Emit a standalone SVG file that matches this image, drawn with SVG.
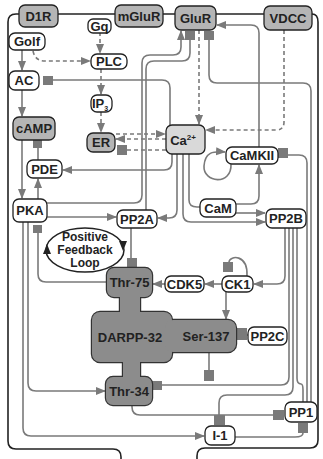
<svg xmlns="http://www.w3.org/2000/svg" width="323" height="459" viewBox="0 0 323 459">
<defs>
<marker id="ar" markerUnits="userSpaceOnUse" markerWidth="10" markerHeight="10" viewBox="0 0 10 10" refX="9" refY="5" orient="auto"><path d="M0,1 L10,5 L0,9 Z" fill="#7a7a7a"/></marker>
<style>
.c path{fill:none;stroke:#7a7a7a;stroke-width:1.6}
.c .d{stroke-dasharray:4 3}
.c .a{marker-end:url(#ar)}
.sq{fill:#7a7a7a}
.n rect{fill:#fff;stroke:#222;stroke-width:1.3}
.n.g rect{fill:#b5b5b5}
.n.l rect{fill:#d9d9d9}
text{font-family:"Liberation Sans",Arial,sans-serif;font-weight:bold;font-size:13px;fill:#222;text-anchor:middle}
.lp{font-size:12px}
.mem{fill:none;stroke:#222;stroke-width:1.6}
</style>
</defs>
<path class="mem" d="M20,14 H312"/>
<path class="mem" d="M20,14 H16 Q8,14 8,22 V441 Q8,449 16,449 H113 Q121,449 121,457 V459"/>
<path class="mem" d="M312,14 Q318,14 318,22 V440 Q318,448 310,448 H205 Q197,448 197,456 V459"/>
<g id="connectors" class="c">
<path class="a" d="M22,50 V70"/>
<path class="a" d="M22,89 V116"/>
<path class="d a" d="M100,32 V53"/>
<path class="d a" d="M33,51 Q35,61 45,61 H90"/>
<path class="d a" d="M101,69 V94"/>
<path class="d a" d="M101,112 V132"/>
<path class="d a" d="M116,134 H165"/>
<path class="d a" d="M166,139 H116"/>
<path class="d" d="M166,150 H127"/>
<path d="M170,125 V88 Q170,80 162,80 H53"/>
<path class="d a" d="M199,30 V124"/>
<path class="d a" d="M284,30 V122 Q284,130 276,130 H206"/>
<path class="a" d="M259,147 V33 Q259,25 251,25 H217"/>
<path class="a" d="M47,203 H134 Q142,203 142,195 V63 Q142,55 150,55 H173 Q181,55 181,47 V31"/>
<path d="M146,210 V69 Q146,61 154,61 H182 Q190,61 190,53 V40"/>
<path class="a" d="M172,154 V162 Q172,170 164,170 H63"/>
<path class="a" d="M177,154 V210 Q177,218 169,218 H158"/>
<path class="a" d="M183,154 V214 Q183,222 191,222 H265"/>
<path d="M189,154 V200 Q189,207 197,207 H200"/>
<path class="a" d="M236,204 H251 Q259,204 259,196 V165"/>
<path class="a" d="M236,213 H265"/>
<path class="a" d="M231,164 C232,186 203,183 204,166 C205,152 213,151 225,152"/>
<path class="a" d="M22,140 V198"/>
<path class="a" d="M38,199 V179"/>
<path d="M38,160 V148"/>
<path class="a" d="M47,217 H116"/>
<path d="M107,282 H46 Q38,282 38,274 V233"/>
<path class="a" d="M28,222 V383 Q28,391 36,391 H105"/>
<path class="a" d="M23,222 V428 Q23,436 31,436 H204"/>
<path d="M131,228 V258"/>
<path class="a" d="M165,284 H153"/>
<path class="a" d="M222,284 H205"/>
<path d="M247,276 C248,254 230,255 229,262"/>
<path class="a" d="M285,228 V276 Q285,284 277,284 H254"/>
<path class="a" d="M226,292 V319"/>
<path d="M248,335 H246"/>
<path d="M209,352 V370"/>
<path d="M289,228 V377 Q289,385 281,385 H162"/>
<path d="M293,228 V387 Q293,395 285,395 H227 Q219,395 219,403 V415"/>
<path d="M297,228 V378 Q297,384 301,384 Q303,384 303,390 V402"/>
<path d="M132,405 V407 Q132,415 140,415 H273"/>
<path d="M235,437 H295 Q303,437 303,433"/>
<path d="M307,402 V163 Q307,155 299,155 H288"/>
<path d="M311,402 V91 Q311,83 303,83 H217 Q209,83 209,75 V40"/>
<rect class="sq" x="117" y="145" width="10" height="10"/>
<rect class="sq" x="43" y="76" width="10" height="9"/>
<rect class="sq" x="185" y="31" width="10" height="9"/>
<rect class="sq" x="204" y="31" width="10" height="9"/>
<rect class="sq" x="33" y="140" width="9" height="8"/>
<rect class="sq" x="33" y="225" width="9" height="8"/>
<rect class="sq" x="127" y="258" width="10" height="10"/>
<rect class="sq" x="223" y="262" width="10" height="10"/>
<rect class="sq" x="236" y="328" width="11" height="12"/>
<rect class="sq" x="204" y="370" width="10" height="11"/>
<rect class="sq" x="152" y="381" width="10" height="9"/>
<rect class="sq" x="214" y="415" width="11" height="10"/>
<rect class="sq" x="273" y="410" width="11" height="10"/>
<rect class="sq" x="298" y="423" width="10" height="10"/>
<rect class="sq" x="278" y="148" width="10" height="10"/>
</g>
<g id="D1R" class="n g"><rect x="19" y="5" width="39" height="22" rx="6"/><text x="38.5" y="20.5">D1R</text></g>
<g id="mGluR" class="n g"><rect x="115" y="5" width="48" height="22" rx="6"/><text x="139" y="20.5">mGluR</text></g>
<g id="GluR" class="n g"><rect x="175" y="6" width="41" height="24" rx="6"/><text x="195.5" y="22.5">GluR</text></g>
<g id="VDCC" class="n g"><rect x="264" y="6" width="48" height="24" rx="6"/><text x="288" y="22.5">VDCC</text></g>
<g id="Gq" class="n"><rect x="88" y="19" width="23" height="14" rx="5"/><text x="99.5" y="30.5">Gq</text></g>
<g id="Golf" class="n"><rect x="9" y="33" width="36" height="17" rx="6"/><text x="27" y="46">Golf</text></g>
<g id="PLC" class="n"><rect x="91" y="54" width="36" height="15" rx="6"/><text x="109" y="66">PLC</text></g>
<g id="AC" class="n"><rect x="9" y="71" width="30" height="19" rx="6"/><text x="24" y="85">AC</text></g>
<g id="IP3" class="n"><rect x="91" y="95" width="21" height="17" rx="6"/><text x="100" y="108">IP<tspan font-size="7" dy="3">3</tspan></text></g>
<g id="cAMP" class="n g"><rect x="13" y="117" width="42" height="23" rx="6"/><text x="34" y="133">cAMP</text></g>
<g id="ER" class="n g"><rect x="87" y="133" width="28" height="19" rx="6"/><text x="101" y="147">ER</text></g>
<g id="Ca" class="n l"><rect x="166" y="125" width="39" height="29" rx="6"/><text x="183" y="144.5">Ca<tspan font-size="8" dy="-5">2+</tspan></text></g>
<g id="CaMKII" class="n"><rect x="226" y="147" width="52" height="17" rx="6"/><text x="252" y="160">CaMKII</text></g>
<g id="PDE" class="n"><rect x="27" y="160" width="35" height="18" rx="6"/><text x="44.5" y="173.5">PDE</text></g>
<g id="PKA" class="n"><rect x="13" y="199" width="34" height="23" rx="6"/><text x="30" y="215">PKA</text></g>
<g id="PP2A" class="n"><rect x="117" y="210" width="40" height="18" rx="6"/><text x="137" y="223.5">PP2A</text></g>
<g id="CaM" class="n"><rect x="200" y="199" width="36" height="18" rx="6"/><text x="218" y="212.5">CaM</text></g>
<g id="PP2B" class="n"><rect x="266" y="209" width="40" height="19" rx="6"/><text x="286" y="223">PP2B</text></g>
<g id="loop"><ellipse cx="85" cy="250" rx="39" ry="22" fill="#fff" stroke="#222" stroke-width="1.5"/>
<path d="M43,254 L47,244 L51,254 Z M119,241 L123,251 L127,241 Z" fill="#222"/>
<text class="lp" x="85" y="241">Positive</text><text class="lp" x="85" y="254">Feedback</text><text class="lp" x="85" y="267">Loop</text></g>
<g id="DARPP32">
<g fill="#8c8c8c" stroke="#333" stroke-width="2.4">
<rect x="107" y="268" width="45" height="29" rx="7"/>
<rect x="120" y="290" width="20" height="30"/>
<rect x="92" y="312" width="80" height="50" rx="8"/>
<rect x="165" y="320" width="71" height="32" rx="8"/>
<rect x="123" y="355" width="17" height="28"/>
<rect x="106" y="377" width="46" height="28" rx="7"/>
</g>
<g fill="#8c8c8c">
<rect x="107" y="268" width="45" height="29" rx="7"/>
<rect x="120" y="290" width="20" height="30"/>
<rect x="92" y="312" width="80" height="50" rx="8"/>
<rect x="165" y="320" width="71" height="32" rx="8"/>
<rect x="123" y="355" width="17" height="28"/>
<rect x="106" y="377" width="46" height="28" rx="7"/>
</g>
<text x="129.5" y="287">Thr-75</text>
<text x="130" y="342">DARPP-32</text>
<text x="206" y="341">Ser-137</text>
<text x="129" y="395.5">Thr-34</text>
</g>
<g id="CDK5" class="n"><rect x="165" y="276" width="39" height="16" rx="6"/><text x="184.5" y="288.5">CDK5</text></g>
<g id="CK1" class="n"><rect x="222" y="276" width="31" height="16" rx="6"/><text x="237.5" y="288.5">CK1</text></g>
<g id="PP2C" class="n"><rect x="248" y="327" width="39" height="18" rx="6"/><text x="267.5" y="340.5">PP2C</text></g>
<g id="PP1" class="n"><rect x="285" y="402" width="32" height="20" rx="6"/><text x="301" y="416.5">PP1</text></g>
<g id="I1" class="n"><rect x="205" y="426" width="30" height="19" rx="6"/><text x="220" y="440">I-1</text></g>
</svg>
